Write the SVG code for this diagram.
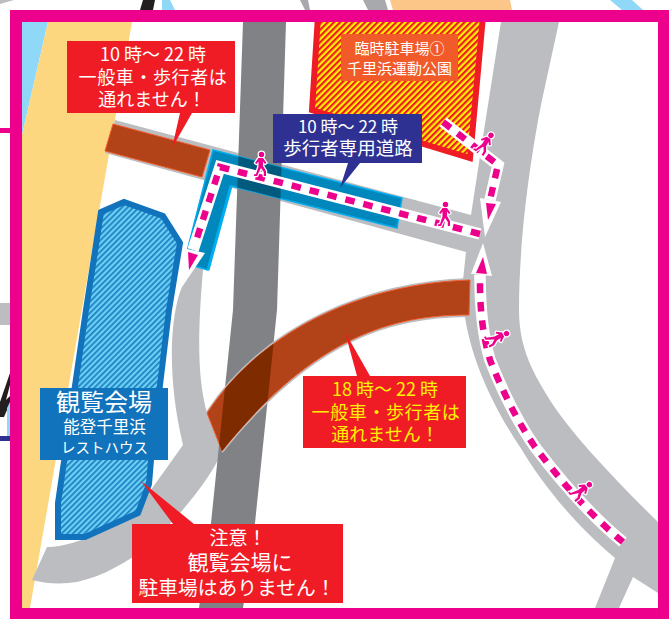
<svg xmlns="http://www.w3.org/2000/svg" xmlns:xlink="http://www.w3.org/1999/xlink" width="669" height="619" viewBox="0 0 669 619">
<style>
.road{fill:#bcbdc0}
.t{font-family:"Noto Sans CJK JP","Noto Sans",sans-serif;text-anchor:middle;fill:#fff}
.s18{font-size:18px}
.y{fill:#fff200}
.red{fill:#ef1c25}
.halo{fill:none;stroke:#fff;stroke-width:11.500}
.dash{fill:none;stroke:#ec008c;stroke-width:6.500;stroke-dasharray:9.500 9}
.hw{fill:#fff}
.hm{fill:#ec008c}
.wh{fill:#fff;stroke:#fff;stroke-width:2.500;stroke-linejoin:round}
.wm{fill:#ec008c}
</style>
<defs>
<pattern id="hatchP" width="4.400" height="4.400" patternUnits="userSpaceOnUse" patternTransform="rotate(45)">
<rect width="4.400" height="4.400" fill="#fff200"/><rect width="2.200" height="4.400" fill="#ef1c25"/>
</pattern>
<pattern id="hatchV" width="4" height="4" patternUnits="userSpaceOnUse" patternTransform="rotate(45)">
<rect width="4" height="4" fill="#6dcff6"/><rect width="1.700" height="4" fill="#1a80bf"/>
</pattern>
<clipPath id="darkClip"><path d="M243,22L286,22L277,310L255,523L243,608L199,608L211,523L233,310Z"/></clipPath>
<path id="brownCurve" d="M470,280L469,315C395,315 315,335 222,451L207,413C265,325 370,283 470,280Z"/>
<path id="blueBand" d="M213,150L402,198L397,228L231,186L208,270L184,263Z"/>
<g id="walkerShape">
<circle cx="0.500" cy="-10.500" r="2.700"/>
<path d="M-2.500,-7L2,-7L5.500,-2L4,-1L2,-3.500L2,1L5,6L5,11L2.800,11L2.800,7L0,3L-4,11L-7,11L-7,9.500L-5,9L-2.500,1.500L-2.500,-3.500L-4.500,-1L-6,-2Z"/>
</g>
</defs>

<g id="outside">
<path d="M140,10L153,10L155,0L143,0Z" fill="#231f20"/>
<path d="M162,10L175,10L170,0L162,0Z" fill="#8fd8f8"/>
<path d="M0,0L14,0L0,4Z" fill="#bcbdc0"/>
<path d="M300,0L308,0L310,10L305,10Z" fill="#a7a9ac"/>
<path d="M363,0L385,0L388,10L368,10Z" fill="#a7a9ac"/>
<path d="M390,0L510,0L512,10L393,10Z" fill="#fdc689"/>
<path d="M610,0L632,0L643,10L622,10Z" fill="#8fd8f8"/>
<rect x="0" y="128" width="10" height="5" fill="#ec008c"/>
<rect x="0" y="303" width="10" height="22" fill="#bcbdc0"/>
<path d="M0,417L0,402L10,373L10,385L6,400L10,396L10,403L4,417Z" fill="#231f20"/>
<path d="M7,408L10,402L10,436L7,436Z" fill="#8fd8f8"/>
<rect x="0" y="436" width="10" height="5" fill="#2e3192"/>
</g>

<g id="base">
<path d="M22,22L48,22L22,135Z" fill="#8fd8f8"/>
<path d="M48,22L132,22L30,608L22,608L22,135Z" fill="#fcd77f"/>
</g>

<g id="roads">
<path class="road" d="M559,22L542,100C530,160 519,240 519,310C519,350 535,375 548,397C565,425 600,465 658,522L658,593L633,577L619,608L595,608L615,558C570,520 540,480 522,450C495,410 470,360 464,310C462,295 463,290 463,280L466,252L105,153L115,120L471,215L482,143L501,22Z"/>
<path class="road" d="M212,150L232,186L203,270C197,340 198,380 207,413L222,451L218,460C205,485 170,530 133,557C100,578 70,590 32,580L47,547C65,547 83,540 100,532C125,520 140,505 153,487L183,445C165,370 172,310 182,287L190,240Z"/>
<path d="M243,22L286,22L277,310L255,523L243,608L199,608L211,523L233,310Z" fill="#808285"/>
</g>

<g id="parking">
<path d="M318,16L312,110L470,158L483,16Z" fill="url(#hatchP)" stroke="#ef1c25" stroke-width="6"/>
<rect x="341" y="34" width="117" height="47" fill="#f15a29"/>
<text class="t" x="399.500" y="54" font-size="15">臨時駐車場①</text>
<text class="t" x="399.500" y="74" font-size="15">千里浜運動公園</text>
</g>

<g id="venue-area">
<path d="M101,212L124,202L163,216L180,243L169,310L151,460L149,484L138,513L85,537L58,537L58,503L86,310Z" fill="url(#hatchV)" stroke="#1173bb" stroke-width="6"/>
</g>

<g id="closure-top">
<path d="M113,124L210,150L202,177L105,151Z" fill="#b24218" stroke="#f15a29" stroke-width="1"/>
</g>

<g id="closure-curve">
<path d="M207,412C265,324 370,282 470,279" fill="none" stroke="#bcbdc0" stroke-width="2"/>
<path d="M222,452C315,336 395,316 469,316" fill="none" stroke="#bcbdc0" stroke-width="2"/>
<use xlink:href="#brownCurve" href="#brownCurve" fill="#b24218" stroke="#f15a29" stroke-width="1"/>
<g clip-path="url(#darkClip)"><use xlink:href="#brownCurve" href="#brownCurve" fill="#7f2b00"/></g>
</g>

<g id="pedestrian-road">
<use xlink:href="#blueBand" href="#blueBand" fill="#0087bc" stroke="#00aeef" stroke-width="1.500"/>
<path d="M231,186L208,270" fill="none" stroke="#00aeef" stroke-width="3"/>
<g clip-path="url(#darkClip)"><use xlink:href="#blueBand" href="#blueBand" fill="#005a7d"/></g>
</g>

<g id="connectors">
<path class="halo" d="M480,234L220,167L193,250"/>
<path class="halo" d="M443,122L498,165L490,200"/>
<path class="halo" d="M623,542C590,515 560,480 535,447C515,418 500,385 490,360C484,340 480,315 480,275"/>
<path class="hw" d="M183,248L205,253L182,287Z"/>
<path class="hw" d="M480,198L501,202L485,237Z"/>
<path class="hw" d="M471,274L492,276L483,243Z"/>
<path class="dash" d="M480,234L220,167L197,238"/>
<path class="dash" d="M443,122L498,165L490,200"/>
<path class="dash" d="M623,542C590,515 560,480 535,447C515,418 500,385 490,360C484,340 480,315 480,283"/>
<path class="hm" d="M188,252L198,255L189,270Z"/>
<path class="hm" d="M486,203L496,204L488,220Z"/>
<path class="hm" d="M476,273L487,274L483,257Z"/>
</g>

<g id="walkers">
<g transform="translate(261,165)"><use xlink:href="#walkerShape" href="#walkerShape" class="wh"/><use xlink:href="#walkerShape" href="#walkerShape" class="wm"/></g>
<g transform="translate(445,215)"><use xlink:href="#walkerShape" href="#walkerShape" class="wh"/><use xlink:href="#walkerShape" href="#walkerShape" class="wm"/></g>
<g transform="translate(485,144) rotate(32)"><use xlink:href="#walkerShape" href="#walkerShape" class="wh"/><use xlink:href="#walkerShape" href="#walkerShape" class="wm"/></g>
<g transform="translate(497,338) rotate(62)"><use xlink:href="#walkerShape" href="#walkerShape" class="wh"/><use xlink:href="#walkerShape" href="#walkerShape" class="wm"/></g>
<g transform="translate(581,491) rotate(50)"><use xlink:href="#walkerShape" href="#walkerShape" class="wh"/><use xlink:href="#walkerShape" href="#walkerShape" class="wm"/></g>
</g>

<g id="venue-label">
<rect x="40" y="388" width="128" height="72" fill="#1173bb"/>
<text class="t" x="104" y="411" font-size="24">観覧会場</text>
<text class="t" x="104.500" y="433" font-size="16.500">能登千里浜</text>
<text class="t" x="104.500" y="453" font-size="14.500">レストハウス</text>
</g>

<g id="callout-top">
<path class="red" d="M67,41H235V113H192L172,148L180,113H67Z"/>
<text class="t s18" x="153" y="61">10 時〜 22 時</text>
<text class="t s18" x="153" y="84" letter-spacing="0.600">一般車・歩行者は</text>
<text class="t s18" x="152" y="106">通れません！</text>
</g>

<g id="callout-pedestrian">
<path d="M273,114H422V163H360L340,188L348,163H273Z" fill="#2e3192"/>
<text class="t" x="348" y="133" font-size="17">10 時〜 22 時</text>
<text class="t" x="348" y="155" font-size="18.500">歩行者専用道路</text>
</g>

<g id="callout-evening">
<path class="red" d="M303,376H357L345,332L370,376H466V448H303Z"/>
<text class="t s18 y" x="385" y="396">18 時〜 22 時</text>
<text class="t s18 y" x="386" y="419" letter-spacing="0.600">一般車・歩行者は</text>
<text class="t s18 y" x="385" y="441">通れません！</text>
</g>

<g id="callout-notice">
<path class="red" d="M132,524H173L141,481L194,524H343V603H132Z"/>
<text class="t" x="238" y="545" font-size="19">注意！</text>
<text class="t" x="240" y="570" font-size="21">観覧会場に</text>
<text class="t" x="237" y="595" font-size="19.800">駐車場はありません！</text>
</g>

<g id="frame">
<rect x="16" y="16" width="648" height="598" fill="none" stroke="#ec008c" stroke-width="12"/>
</g>
</svg>
